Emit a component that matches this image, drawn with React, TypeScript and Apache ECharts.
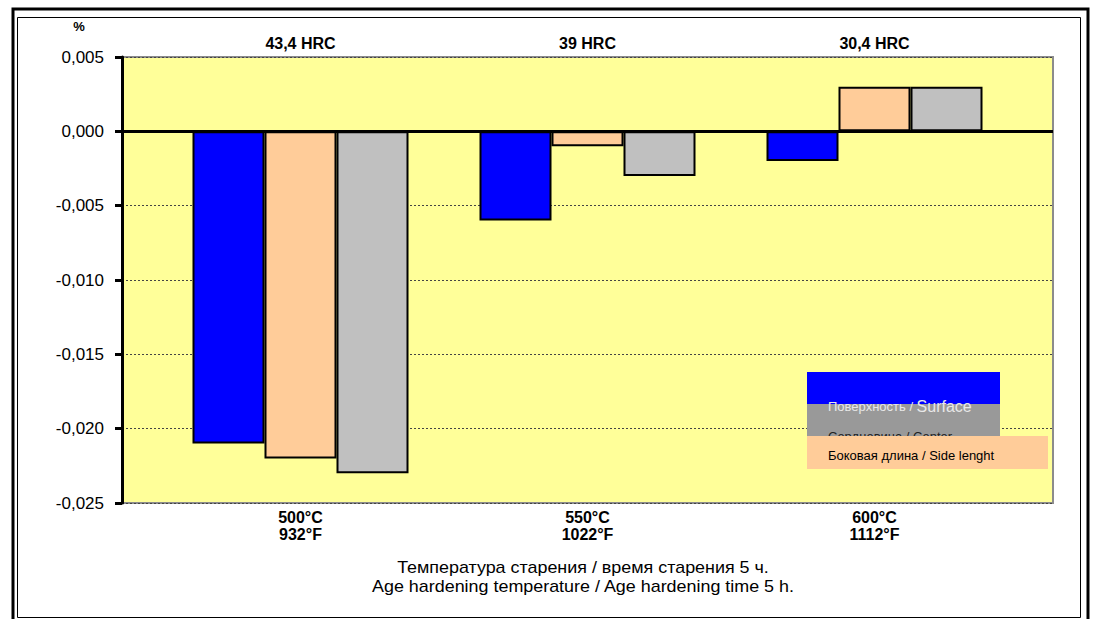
import React, { useEffect, useRef } from "react";
import * as echarts from "echarts";

const tempLabels = ["500°C\n932°F", "550°C\n1022°F", "600°C\n1112°F"];
const hrcLabels = ["43,4 HRC", "39 HRC", "30,4 HRC"];
const seriesNames = ["Поверхность / Surface", "Сердцевина / Center", "Боковая длина / Side lenght"];
const surface = [-0.021, -0.006, -0.002];
const side = [-0.022, -0.001, 0.003];
const center = [-0.023, -0.003, 0.003];
const yMin = -0.025;
const yMax = 0.005;
const yStep = 0.005;

const FONT = "Arial, 'Liberation Sans', sans-serif";

export default function App() {
  const ref = useRef<HTMLDivElement>(null);
  useEffect(() => {
    if (!ref.current) return;
    const chart = echarts.init(ref.current, null, { renderer: "svg" });
    const barStyle = (color: string) => ({ color, borderColor: "#000", borderWidth: 2 });
    chart.setOption({
      animation: false,
      backgroundColor: "#fff",
      grid: [
        {
          left: 122, top: 57, width: 931, height: 446,
          show: true, backgroundColor: "#FFFF99", borderColor: "#8c8c8c", borderWidth: 2,
        },
        { left: 157, top: 57, width: 861, height: 446 },
      ],
      xAxis: [
        {
          type: "category", gridIndex: 0, data: ["", "", ""], position: "bottom",
          axisLine: { show: false }, axisTick: { show: false }, axisLabel: { show: false },
        },
        {
          type: "category", gridIndex: 1, data: hrcLabels, position: "top",
          axisLine: { show: false }, axisTick: { show: false },
          axisLabel: { margin: 6, fontFamily: FONT, fontWeight: "bold", fontSize: 16, color: "#000" },
        },
        {
          type: "category", gridIndex: 1, data: tempLabels, position: "bottom",
          axisLine: { show: false }, axisTick: { show: false },
          axisLabel: {
            margin: 6, fontFamily: FONT, fontWeight: "bold", fontSize: 16, color: "#000",
            lineHeight: 17,
          },
        },
      ],
      yAxis: [
        {
          type: "value", gridIndex: 0, min: yMin, max: yMax, interval: yStep,
          axisLine: { show: true, lineStyle: { color: "#000", width: 3 } },
          axisTick: { show: true, length: 7, lineStyle: { color: "#000", width: 3 } },
          axisLabel: {
            margin: 18, fontFamily: FONT, fontSize: 17, color: "#000",
            formatter: (v: number) => (Math.abs(v) < 1e-9 ? "0,000" : v.toFixed(3).replace(".", ",")),
          },
          splitLine: { show: true, lineStyle: { color: "#444", width: 1, type: [2, 2] } },
        },
        { type: "value", gridIndex: 1, min: yMin, max: yMax, interval: yStep, show: false },
      ],
      series: [
        {
          type: "line", xAxisIndex: 0, yAxisIndex: 0, data: [], silent: true,
          markLine: {
            silent: true, symbol: "none", label: { show: false },
            lineStyle: { color: "#000", width: 3, type: "solid" },
            data: [{ yAxis: 0 }],
          },
          z: 5,
        },
        {
          name: seriesNames[0], type: "bar", xAxisIndex: 1, yAxisIndex: 1, data: surface,
          barWidth: 72, barGap: "0%", itemStyle: barStyle("#0000FF"), z: 3,
        },
        {
          name: seriesNames[2], type: "bar", xAxisIndex: 1, yAxisIndex: 1, data: side,
          barWidth: 72, barGap: "0%", itemStyle: barStyle("#FFCC99"), z: 3,
        },
        {
          name: seriesNames[1], type: "bar", xAxisIndex: 1, yAxisIndex: 1, data: center,
          barWidth: 72, barGap: "0%", itemStyle: barStyle("#C0C0C0"), z: 3,
        },
      ],
      graphic: [
        { type: "rect", shape: { x: 13, y: 9, width: 1075, height: 625 }, style: { fill: "none", stroke: "#000", lineWidth: 3 }, z: 0 },
        { type: "rect", shape: { x: 17.5, y: 17.5, width: 1063, height: 600 }, style: { fill: "none", stroke: "#000", lineWidth: 1 }, z: 0 },
        { type: "text", x: 79, y: 26, style: { text: "%", fontFamily: FONT, fontWeight: "bold", fontSize: 13, fill: "#000", align: "center", verticalAlign: "middle" } },
        { type: "text", x: 583, y: 568, scaleX: 1.12, style: { text: "Температура старения / время старения 5 ч.", fontFamily: FONT, fontSize: 16, fill: "#000", align: "center", verticalAlign: "middle" } },
        { type: "text", x: 583, y: 587, scaleX: 1.12, style: { text: "Age hardening temperature / Age hardening time 5 h.", fontFamily: FONT, fontSize: 16, fill: "#000", align: "center", verticalAlign: "middle" } },
        { type: "rect", shape: { x: 807, y: 372, width: 193, height: 32 }, style: { fill: "#0000FF" }, z: 20 },
        { type: "rect", shape: { x: 807, y: 404, width: 193, height: 32 }, style: { fill: "#999999" }, z: 20 },
        {
          type: "text", x: 828, y: 406, z: 21,
          style: {
            text: "{a|Поверхность / }{b|Surface}", fill: "#e8e8e8", verticalAlign: "middle", align: "left",
            rich: {
              a: { fontFamily: FONT, fontSize: 13, fill: "#e8e8e8", color: "#e8e8e8" },
              b: { fontFamily: FONT, fontSize: 16, fill: "#e8e8e8", color: "#e8e8e8" },
            },
          },
        },
        { type: "text", x: 828, y: 436.5, z: 21, style: { text: "Сердцевина / Center", fontFamily: FONT, fontSize: 13, fill: "#222", align: "left", verticalAlign: "middle" } },
        { type: "rect", shape: { x: 807, y: 436, width: 241, height: 33 }, style: { fill: "#FFCC99" }, z: 22 },
        { type: "text", x: 828, y: 455, z: 23, style: { text: "Боковая длина / Side lenght", fontFamily: FONT, fontSize: 13, fill: "#000", align: "left", verticalAlign: "middle" } },
      ],
    });
    return () => chart.dispose();
  }, []);
  return (
    <div
      ref={ref}
      style={{ position: "fixed", left: 0, top: 0, width: 1095, height: 619, background: "#fff" }}
    />
  );
}
